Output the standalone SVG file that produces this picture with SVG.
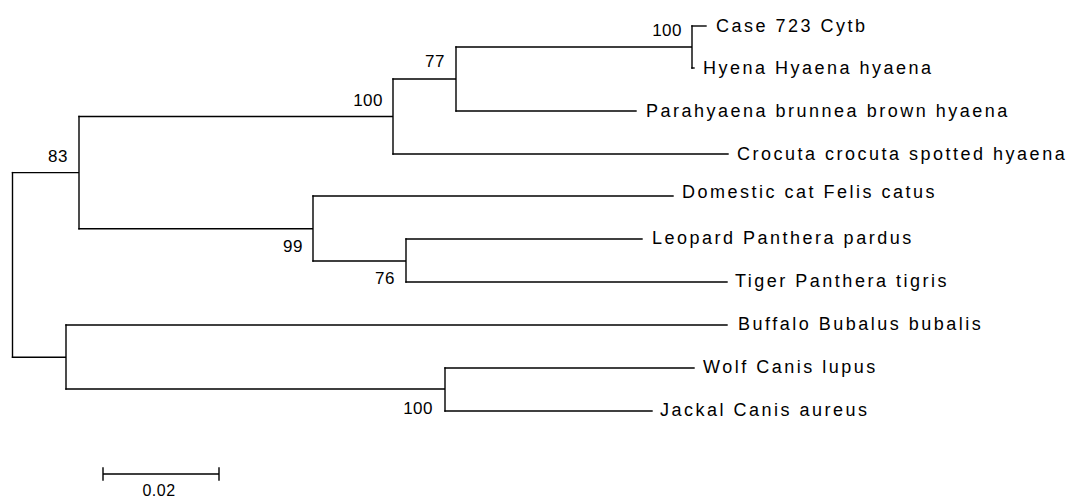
<svg xmlns="http://www.w3.org/2000/svg" width="1070" height="500" viewBox="0 0 1070 500">
<style>
.br{fill:none;stroke:#000;stroke-width:1.4;stroke-linecap:square}
.tx{font-family:"Liberation Sans",Arial,sans-serif;font-size:18px;letter-spacing:2.5px;fill:#000}
.bs{font-family:"Liberation Sans",Arial,sans-serif;font-size:17px;letter-spacing:0.5px;fill:#000;text-anchor:end}
</style>
<rect width="1070" height="500" fill="#fff"/>
<g id="connectors" class="br">
<path d="M12.5,172.6 V357.2"/>
<path d="M12.5,172.6 H79 M79,116.5 V228.8"/>
<path d="M79,116.5 H393 M393,79 V154"/>
<path d="M393,79 H456 M456,47 V111"/>
<path d="M456,47 H692 M692,26 V68"/>
<path d="M692,26 H706"/>
<path d="M692,68 H694"/>
<path d="M456,111 H636"/>
<path d="M393,154 H728"/>
<path d="M79,228.8 H313 M313,196 V261"/>
<path d="M313,196 H673"/>
<path d="M313,261 H406 M406,239 V282"/>
<path d="M406,239 H642"/>
<path d="M406,282 H727"/>
<path d="M12.5,357.2 H66 M66,325 V389"/>
<path d="M66,325 H727"/>
<path d="M66,389 H445 M445,368 V411"/>
<path d="M445,368 H694"/>
<path d="M445,411 H652"/>
</g>
<g id="taxon-case723"><text class="tx" x="716" y="32">Case 723 Cytb</text></g>
<g id="taxon-hyena"><text class="tx" x="703" y="74">Hyena Hyaena hyaena</text></g>
<g id="taxon-parahyaena"><text class="tx" x="646" y="117">Parahyaena brunnea brown hyaena</text></g>
<g id="taxon-crocuta"><text class="tx" x="737" y="160">Crocuta crocuta spotted hyaena</text></g>
<g id="taxon-cat"><text class="tx" x="682" y="198">Domestic cat Felis catus</text></g>
<g id="taxon-leopard"><text class="tx" x="652" y="244">Leopard Panthera pardus</text></g>
<g id="taxon-tiger"><text class="tx" x="735" y="287">Tiger Panthera tigris</text></g>
<g id="taxon-buffalo"><text class="tx" x="738" y="330">Buffalo Bubalus bubalis</text></g>
<g id="taxon-wolf"><text class="tx" x="703" y="373">Wolf Canis lupus</text></g>
<g id="taxon-jackal"><text class="tx" x="660" y="416">Jackal Canis aureus</text></g>
<g id="bootstrap">
<text class="bs" x="68" y="161.5">83</text>
<text class="bs" x="383" y="106">100</text>
<text class="bs" x="445" y="67">77</text>
<text class="bs" x="682" y="36">100</text>
<text class="bs" x="303" y="251.5">99</text>
<text class="bs" x="395" y="283.5">76</text>
<text class="bs" x="433" y="414">100</text>
</g>
<g id="scale-bar">
<path class="br" d="M103,474 H219 M103,468 V480 M219,468 V480"/>
<text x="159" y="496" font-family="Liberation Sans, Arial, sans-serif" font-size="16" text-anchor="middle" letter-spacing="0.5">0.02</text>
</g>
</svg>
